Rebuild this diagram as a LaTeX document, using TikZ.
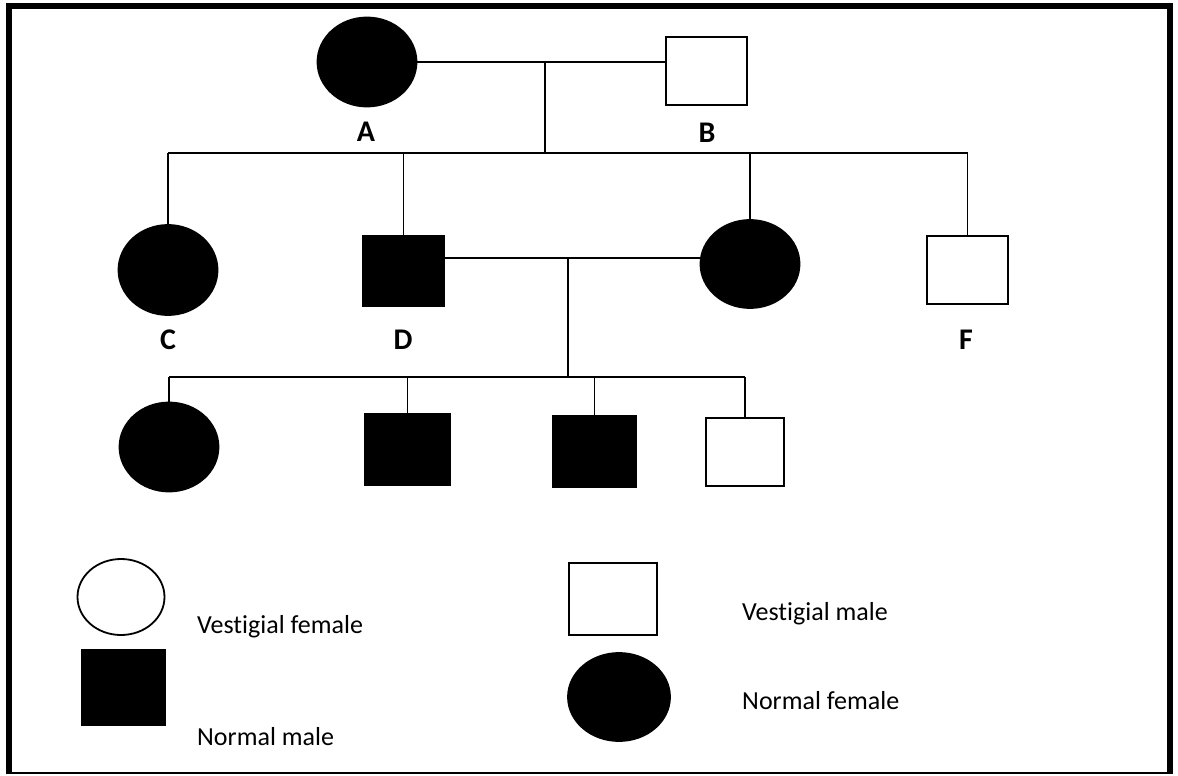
\documentclass[tikz,border=0pt]{standalone}
\usepackage{fontspec}
\setmainfont{Carlito}[Ligatures=NoCommon]
\usepackage{tikz}
\usetikzlibrary{shapes.geometric}

\begin{document}
\begin{tikzpicture}[
  x=1pt, y=-1pt,
  female/.style={draw, ellipse, line width=1.8pt, inner sep=0pt},
  male/.style={draw, rectangle, line width=1.8pt, inner sep=0pt},
  normal/.style={fill=black},
  vestigial/.style={fill=white},
  tag/.style={font=\fontsize{30}{33}\selectfont\bfseries, inner sep=0pt},
  keytext/.style={font=\fontsize{26}{30}\selectfont, anchor=base west, inner sep=0pt},
  link/.style={line width=1.8pt}
]
\useasboundingbox (0,0) rectangle (1178,776);
\draw[line width=1.2pt] (7,4) rectangle (1172,773);
\draw[line width=5pt] (9.5,773) -- (9.5,7) -- (1169.5,7) -- (1169.5,773);

% parents
\node[female, normal, minimum width=99pt, minimum height=89pt] (A) at (367,62) {};
\node[male, vestigial, minimum width=81pt, minimum height=68pt] (B) at (706.5,71) {};
\node[tag] (labA) at (366,132) {A};
\node[tag] (labB) at (707,133) {B};

% second generation
\node[female, normal, minimum width=99pt, minimum height=90pt] (C) at (168,270) {};
\node[male, normal, minimum width=81pt, minimum height=70pt] (D) at (403.5,271) {};
\node[female, normal, minimum width=99pt, minimum height=88pt] (E) at (750,264) {};
\node[male, vestigial, minimum width=81pt, minimum height=68pt] (F) at (967.5,270) {};
\node[tag] (labC) at (168,340) {C};
\node[tag] (labD) at (403,340) {D};
\node[tag] (labF) at (966,340) {F};

% third generation
\node[female, normal, minimum width=99pt, minimum height=89pt] (G) at (169,447) {};
\node[male, normal, minimum width=85pt, minimum height=71pt] (H) at (407.5,449.5) {};
\node[male, normal, minimum width=83pt, minimum height=71pt] (I) at (594.5,451.5) {};
\node[male, vestigial, minimum width=78pt, minimum height=68pt] (J) at (745,452) {};

\coordinate (mAB) at (545,62);
\coordinate (sAB) at (545,153);
\coordinate (mDE) at (568,258);
\coordinate (sDE) at (568,377);

\draw[link] (A.east) -- (A.east -| B.west);
\draw[link] (mAB) -- (sAB);
\draw[link] (C.north |- sAB) -- (F.north |- sAB);
\foreach \kid in {C,D,E,F}
  \draw[link] (\kid.north |- sAB) -- (\kid.north);

\draw[link] (D.east |- mDE) -- (E.west |- mDE);
\draw[link] (mDE) -- (sDE);
\draw[link] (G.north |- sDE) -- (J.north |- sDE);
\foreach \kid in {G,H,I,J}
  \draw[link] (\kid.north |- sDE) -- (\kid.north);

% key
\node[female, vestigial, minimum width=87pt, minimum height=76pt] (keyVF) at (121,597) {};
\node[male, normal, minimum width=83pt, minimum height=75pt] (keyNM) at (123.5,687.5) {};
\node[male, vestigial, minimum width=88pt, minimum height=72pt] (keyVM) at (613,599) {};
\node[female, normal, minimum width=102pt, minimum height=88pt] (keyNF) at (619,697) {};
\node[keytext] (txtVF) at (197,633) {Vestigial female};
\node[keytext] (txtNM) at (197,745) {Normal male};
\node[keytext] (txtVM) at (742,620) {Vestigial male};
\node[keytext] (txtNF) at (742,709) {Normal female};
\end{tikzpicture}
\end{document}
